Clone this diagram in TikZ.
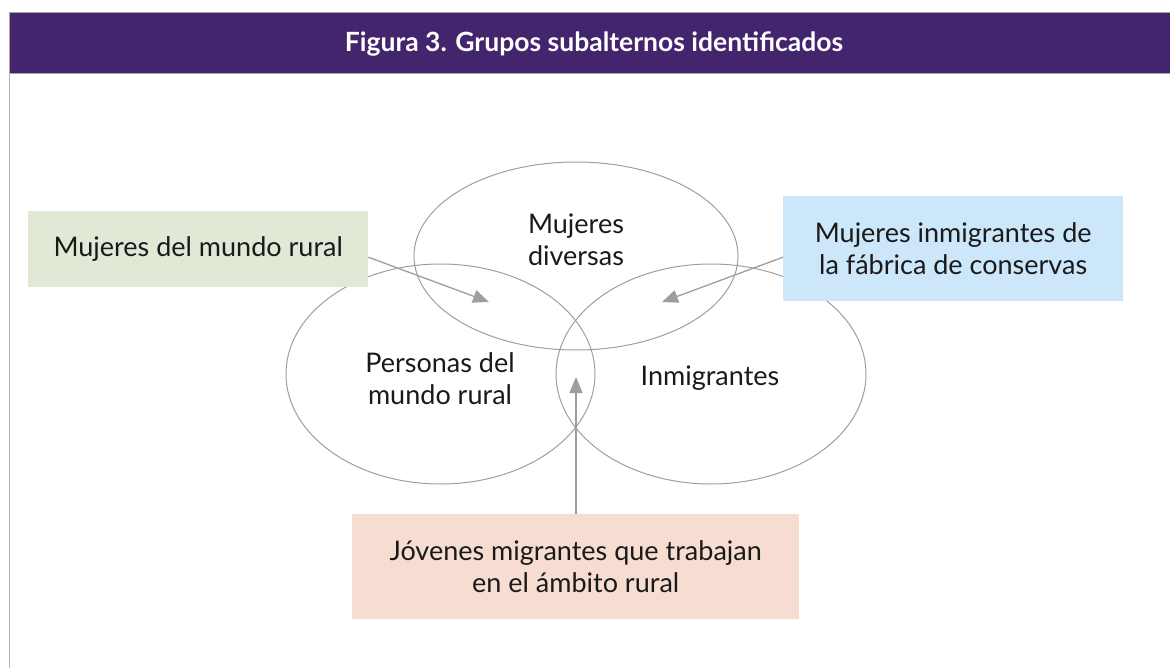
\documentclass[tikz,border=0pt]{standalone}
\usepackage{fontspec}
\setmainfont{Lato}
\usetikzlibrary{shapes.geometric,arrows.meta,calc}
\definecolor{headpurple}{HTML}{43256D}
\definecolor{boxgreen}{HTML}{E2E8D6}
\definecolor{boxblue}{HTML}{CCE7FA}
\definecolor{boxpink}{HTML}{F6DCD1}
\definecolor{linegray}{HTML}{9E9E9E}
\definecolor{textblack}{HTML}{1A1A1A}
\tikzset{
  circ/.style={draw=linegray, line width=1pt, ellipse, inner sep=0pt},
  lbl/.style={text=textblack, align=center, font=\fontsize{27}{32}\selectfont},
  colbox/.style={lbl, inner sep=0pt, anchor=north west},
  conn/.style={draw=linegray, line width=1.3pt, -{Triangle[length=16pt,width=13pt]}},
}
\begin{document}
\begin{tikzpicture}[x=1pt,y=-1pt]
\useasboundingbox (0,0) rectangle (1170,668);
% header band
\fill[headpurple] (9,12.5) rectangle (1170,73);
\draw[gray!70, line width=0.8pt] (1170,12.5) -- (9,12.5) -- (9,73) -- (1170,73);
\node[text=white, font=\fontsize{26.5}{30}\bfseries\selectfont] (title) at (594,44) {Figura 3. Grupos subalternos identificados};
\draw[gray!60, line width=0.8pt] (9,73) -- (9,668);
% ellipses
\node[circ, minimum width=324pt, minimum height=188pt] (top) at (576,256) {};
\node[circ, minimum width=309pt, minimum height=220pt] (left) at (440.5,374) {};
\node[circ, minimum width=310pt, minimum height=220pt] (right) at (711,374) {};
\node[lbl] (toptxt) at (576,240) {Mujeres\\diversas};
\node[lbl] (lefttxt) at (440,379) {Personas del\\mundo rural};
\node[lbl] (righttxt) at (710,378) {Inmigrantes};
% boxes
\node[colbox, fill=boxgreen, minimum width=340pt, minimum height=76pt] (green) at (28,211) {Mujeres del mundo rural};
\node[colbox, fill=boxblue, minimum width=340pt, minimum height=105pt] (blue) at (783,196) {Mujeres inmigrantes de\\la fábrica de conservas};
\node[colbox, fill=boxpink, minimum width=447pt, minimum height=105pt] (pink) at (352,514) {Jóvenes migrantes que trabajan\\en el ámbito rural};
% arrow tips
\coordinate (tipA) at (489,302);
\coordinate (tipB) at (662,302);
\coordinate (tipC) at (576,377);
\draw[conn] ($(green.east)+(0,8)$) -- (tipA);
\draw[conn] ($(blue.west)+(0,8.5)$) -- (tipB);
\draw[conn] (pink.north -| tipC) -- (tipC);
\end{tikzpicture}
\end{document}
